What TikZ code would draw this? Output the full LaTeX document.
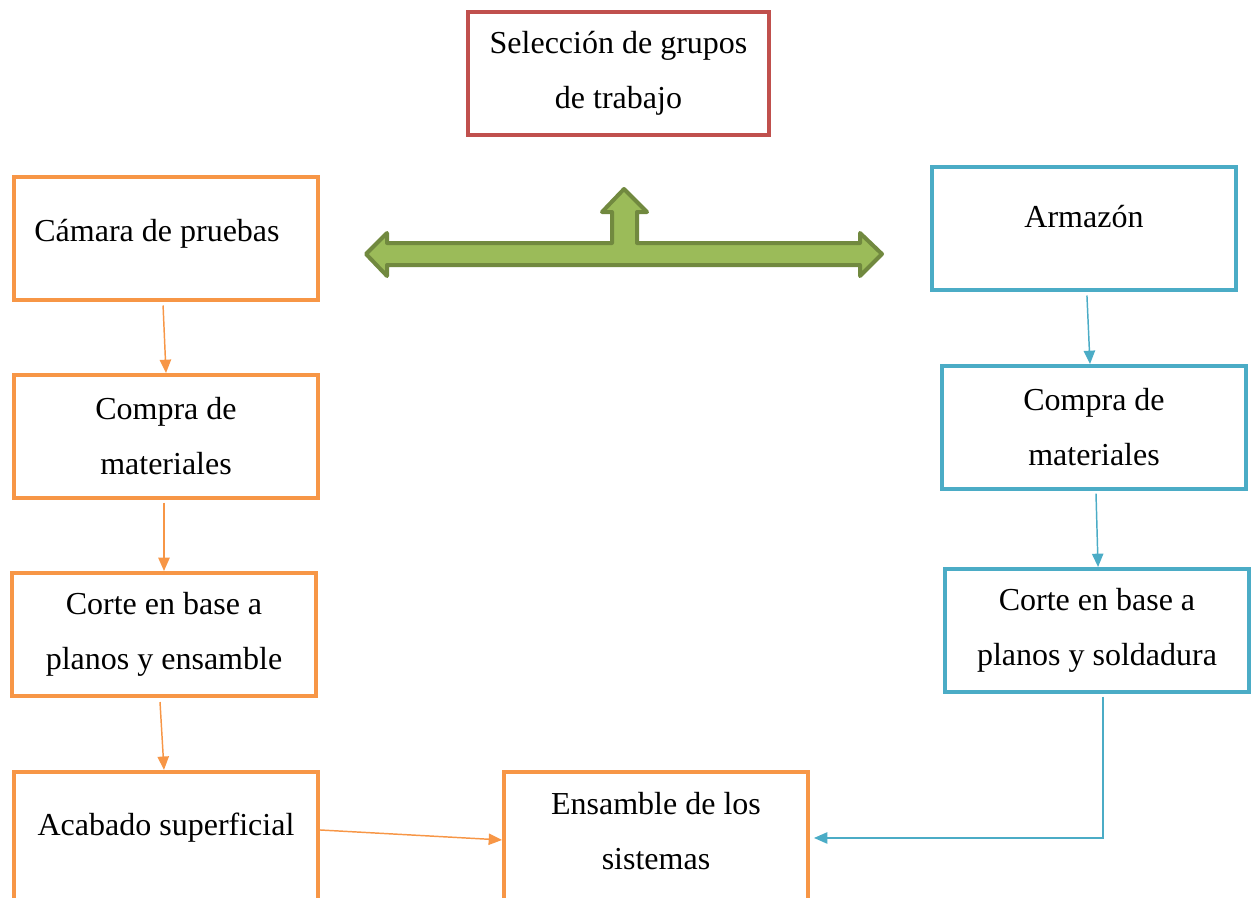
\documentclass[tikz,border=0pt]{standalone}
\usepackage{fontspec}
\setmainfont{Liberation Serif}
\usetikzlibrary{arrows.meta}
\definecolor{oran}{HTML}{F79646}
\definecolor{redd}{HTML}{C0504D}
\definecolor{blu}{HTML}{4BACC6}
\definecolor{gfill}{HTML}{9BBB59}
\definecolor{gline}{HTML}{71893F}
\begin{document}
\begin{tikzpicture}[x=0.75pt,y=-0.75pt,
  box/.style={draw, line width=3pt, fill=white, minimum width=228pt, minimum height=92.25pt,
    align=center, inner sep=0pt, font=\fontsize{24}{41.25}\selectfont},
  obox/.style={box, draw=oran},
  bbox/.style={box, draw=blu},
  rbox/.style={box, draw=redd, minimum width=225.75pt},
  lowbox/.style={minimum height=100pt},
  oarr/.style={draw=oran, line width=1.1pt, -{Triangle[length=10pt,width=8.5pt]}},
  barr/.style={draw=blu, line width=1.1pt, -{Triangle[length=10pt,width=8.5pt]}}]
\useasboundingbox (0,0) rectangle (1253,897);
\clip (0,0) rectangle (1253,897);

\node[rbox] (sel) at (618.5,73.5) {Selección de grupos\\de trabajo};

\node[obox, text depth=11pt] (cam) at (166,238) {Cámara de pruebas\hspace{13.5pt}};
\node[obox] (com1) at (166,436.5) {Compra de\\materiales};
\node[obox] (cor1) at (164,634.5) {Corte en base a\\planos y ensamble};
\node[obox, lowbox, text depth=22pt] (aca) at (166,838.5) {Acabado superficial};
\node[obox, lowbox, text depth=11.5pt] (ens) at (656,838.5) {Ensamble de los\\sistemas};

\node[bbox, text depth=17pt] (arm) at (1084,228) {Armazón};
\node[bbox] (com2) at (1094,427.5) {Compra de\\materiales};
\node[bbox] (cor2) at (1097,630.5) {Corte en base a\\planos y soldadura};

\draw[oarr] ([xshift=-2.2pt,yshift=-3pt]cam.south) -- (com1.north);
\draw[oarr] ([xshift=-1.5pt,yshift=-2pt]com1.south) -- (cor1.north);
\draw[oarr] ([xshift=-3pt,yshift=-3pt]cor1.south) -- ([xshift=-1.5pt]aca.north);
\draw[oarr] ([yshift=6.4pt]aca.east) -- ([yshift=-1.1pt]ens.west);

\draw[barr] ([xshift=2.2pt,yshift=-3pt]arm.south) -- ([xshift=-3pt]com2.north);
\draw[barr] ([xshift=1.5pt,yshift=-2pt]com2.south) -- ([xshift=0.8pt]cor2.north);
\draw[barr] ([xshift=4.5pt,yshift=-2pt]cor2.south) |- ([xshift=3pt,yshift=0.4pt]ens.east);

\draw[draw=gline, fill=gfill, line width=3pt, line join=round]
  (366,254) -- (387,233) -- (387,243) -- (612,243) -- (612,212) -- (602,212)
  -- (624,189) -- (647,212) -- (637,212) -- (637,243) -- (860,243) -- (860,233)
  -- (882,254) -- (860,276) -- (860,265) -- (387,265) -- (387,276) -- cycle;
\end{tikzpicture}
\end{document}
